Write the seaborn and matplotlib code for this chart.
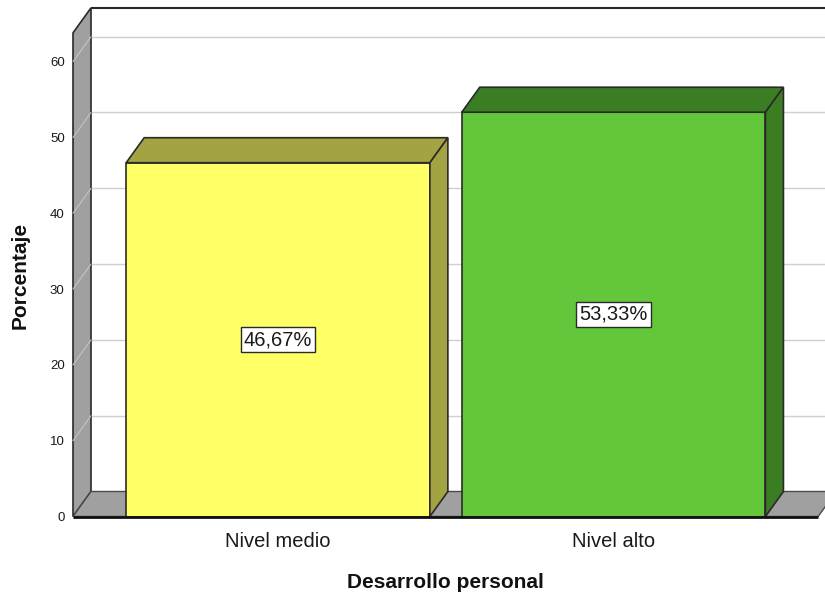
import matplotlib
matplotlib.use("Agg")
import matplotlib.pyplot as plt
from matplotlib.patches import Polygon
import seaborn as sns

# Data
categories = ["Nivel medio", "Nivel alto"]
percentages = [46.67, 53.33]
value_labels = ["46,67%", "53,33%"]
y_ticks = [0, 10, 20, 30, 40, 50, 60]

# Colours: front faces and shaded (top / side) faces
front_colors = ["#FFFF66", "#62C73A"]
shade_colors = ["#A3A343", "#3B7D23"]
wall_color = "#A0A0A0"
grid_color = "#CFCFCF"
edge_dark = "#2A2A2A"

sns.set_theme(style="white")
plt.rcParams["font.family"] = ["Liberation Sans", "DejaVu Sans"]

W, H, DPI = 825, 596, 100
fig = plt.figure(figsize=(W / DPI, H / DPI), dpi=DPI)
fig.patch.set_facecolor("white")

# Axes occupies the front plane of the 3D box (pixel frame)
left_px, right_px, bottom_px, top_px = 73, 825, 516.5, 8
ax = fig.add_axes([left_px / W, 1 - bottom_px / H,
                   (right_px - left_px) / W, (bottom_px - top_px) / H])
ax.set_facecolor("none")

sns.barplot(x=categories, y=percentages, hue=categories, palette=front_colors,
            saturation=1, width=0.905, edgecolor=edge_dark, linewidth=1.2,
            legend=False, ax=ax, zorder=4)
bars = list(ax.patches)

x_lo, x_hi = -0.611, 1.630
y_lo, y_hi = 0, 67.08
ax.set_xlim(x_lo, x_hi)
ax.set_ylim(y_lo, y_hi)

# depth of the 3D box, converted from pixels to data units
depth_x_px, depth_y_px = 18, 25
ddx = depth_x_px * (x_hi - x_lo) / (right_px - left_px)
ddy = depth_y_px * (y_hi - y_lo) / (bottom_px - top_px)

wall_top = 63.8
front_right = 1.6096
x_far = front_right + ddx

# back wall
ax.add_patch(Polygon([(x_lo + ddx, ddy), (x_lo + ddx, wall_top + ddy),
                      (x_far, wall_top + ddy), (x_far, ddy)],
                     closed=True, facecolor="white", edgecolor="none",
                     zorder=0, clip_on=False))
ax.plot([x_lo + ddx, x_far], [wall_top + ddy] * 2, color=edge_dark, lw=1.5,
        zorder=1, clip_on=False, solid_capstyle="butt")

# gridlines on back wall
for v in y_ticks[1:]:
    ax.plot([x_lo + ddx, x_far], [v + ddy] * 2, color=grid_color, lw=1.0,
            zorder=1, clip_on=False)

# left wall
ax.add_patch(Polygon([(x_lo, 0), (x_lo, wall_top), (x_lo + ddx, wall_top + ddy),
                      (x_lo + ddx, ddy)], closed=True, facecolor=wall_color,
                     edgecolor=edge_dark, lw=1.2, zorder=2, clip_on=False))
for v in y_ticks[1:]:
    ax.plot([x_lo, x_lo + ddx], [v, v + ddy], color="#C4C4C4", lw=0.8,
            zorder=2.5, clip_on=False)

# floor
ax.add_patch(Polygon([(x_lo, 0), (front_right, 0), (front_right + ddx, ddy),
                      (x_lo + ddx, ddy)], closed=True, facecolor=wall_color,
                     edgecolor="#4A4A4A", lw=1.0, zorder=2, clip_on=False))
ax.plot([x_lo, front_right], [0, 0], color="#111111", lw=2.0, zorder=5,
        clip_on=False, solid_capstyle="butt")

# 3D top and side faces of each bar, plus the value boxes
for bar, shade, val, lab in zip(bars, shade_colors, percentages, value_labels):
    x0 = bar.get_x()
    x1 = x0 + bar.get_width()
    h = bar.get_height()
    ax.add_patch(Polygon([(x0, h), (x1, h), (x1 + ddx, h + ddy), (x0 + ddx, h + ddy)],
                         closed=True, facecolor=shade, edgecolor=edge_dark,
                         lw=1.2, zorder=4, clip_on=False))
    ax.add_patch(Polygon([(x1, 0), (x1, h), (x1 + ddx, h + ddy), (x1 + ddx, ddy)],
                         closed=True, facecolor=shade, edgecolor=edge_dark,
                         lw=1.2, zorder=4, clip_on=False))
    ax.text(x0 + bar.get_width() / 2, h / 2, lab, ha="center", va="center",
            fontsize=14.5, color="#1A1A1A", zorder=6,
            bbox=dict(boxstyle="square,pad=0.15", facecolor="white",
                      edgecolor=edge_dark, lw=1.0))

# axes decoration
for s in ax.spines.values():
    s.set_visible(False)
ax.set_yticks(y_ticks)
ax.set_yticklabels([str(t) for t in y_ticks])
ax.tick_params(axis="y", length=0, pad=6, labelsize=9.5, labelcolor="#1A1A1A")
ax.tick_params(axis="x", length=0, pad=11, labelsize=14.5, labelcolor="#1A1A1A")
ax.grid(False)

ax.set_xlabel("Desarrollo personal", fontsize=15, fontweight="bold", color="#111111")
ax.set_ylabel("Porcentaje", fontsize=15, fontweight="bold", color="#111111")
ax.xaxis.set_label_coords((445 - left_px) / (right_px - left_px),
                          (bottom_px - 583) / (bottom_px - top_px))
ax.xaxis.label.set_va("center")
ax.yaxis.set_label_coords((20 - left_px) / (right_px - left_px),
                          (bottom_px - 275) / (bottom_px - top_px))
ax.yaxis.label.set_va("center")

fig.savefig("out.png", dpi=DPI, facecolor="white")
